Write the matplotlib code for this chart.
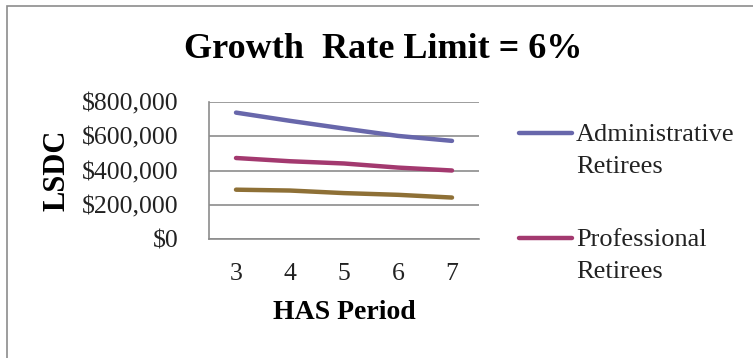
import matplotlib
matplotlib.use("Agg")
import matplotlib.pyplot as plt
from matplotlib.lines import Line2D
from matplotlib.patches import Rectangle
from matplotlib.ticker import FuncFormatter

plt.rcParams["font.family"] = ["Liberation Serif", "DejaVu Serif"]

# LSDC by HAS period
periods = [3, 4, 5, 6, 7]
admin_retirees = [738000, 690000, 645000, 602000, 573000]
prof_retirees = [473000, 454000, 441000, 417000, 400000]
other_retirees = [288000, 283000, 268000, 258000, 242000]

admin_color = "#6867AB"
prof_color = "#A3396F"
other_color = "#8E7036"

fig = plt.figure(figsize=(7.53, 3.58), dpi=100)
W, H = 753, 358

# outer chart frame
fig.add_artist(Rectangle((7 / W, -0.1), 1.2, 1 - 6 / H + 0.1,
                         transform=fig.transFigure, fill=False,
                         edgecolor="#8c8c8c", linewidth=1.2))

ax = fig.add_axes([209 / W, (H - 239) / H, 270 / W, 137 / H])

ax.plot(range(len(periods)), admin_retirees, color=admin_color, lw=3.2,
        solid_capstyle="round")
ax.plot(range(len(periods)), prof_retirees, color=prof_color, lw=3.2,
        solid_capstyle="round")
ax.plot(range(len(periods)), other_retirees, color=other_color, lw=3.2,
        solid_capstyle="round")

ax.set_xlim(-0.5, len(periods) - 0.5)
ax.set_ylim(0, 800000)
ax.set_yticks(range(0, 800001, 200000))
ax.yaxis.set_major_formatter(FuncFormatter(lambda v, p: f"${v:,.0f}"))
ax.set_xticks(range(len(periods)))
ax.set_xticklabels([str(p) for p in periods])
ax.tick_params(axis="both", length=0, labelsize=18.5, colors="#222222")
ax.tick_params(axis="x", pad=17)
ax.tick_params(axis="y", pad=22)

ax.grid(axis="y", color="#8c8c8c", linewidth=1.2)
ax.set_axisbelow(True)
for side in ["top", "right"]:
    ax.spines[side].set_visible(False)
for side in ["left", "bottom"]:
    ax.spines[side].set_color("#8c8c8c")
    ax.spines[side].set_linewidth(1.2)

ax.set_xlabel("HAS Period", fontsize=20, fontweight="bold", va="center")
ax.xaxis.set_label_coords(0.5, -0.54)
ax.set_ylabel("LSDC", fontsize=22, fontweight="bold", va="center")
ax.yaxis.set_label_coords(-0.563, 0.5)

fig.text(383 / W, 1 - 49 / H, "Growth  Rate Limit = 6%", fontsize=26,
         fontweight="bold", ha="center", va="center")

# legend entries
for y_px, color, label in [(133, admin_color, "Administrative\nRetirees"),
                           (238, prof_color, "Professional\nRetirees")]:
    fig.add_artist(Line2D([519 / W, 572 / W], [1 - y_px / H] * 2,
                          transform=fig.transFigure, color=color, lw=3.2,
                          solid_capstyle="round"))
    fig.text(576 / W, 1 - (y_px - 9) / H, label, fontsize=19,
             ha="left", va="top", linespacing=1.6, color="#222222")

fig.savefig("out.png", dpi=100)
